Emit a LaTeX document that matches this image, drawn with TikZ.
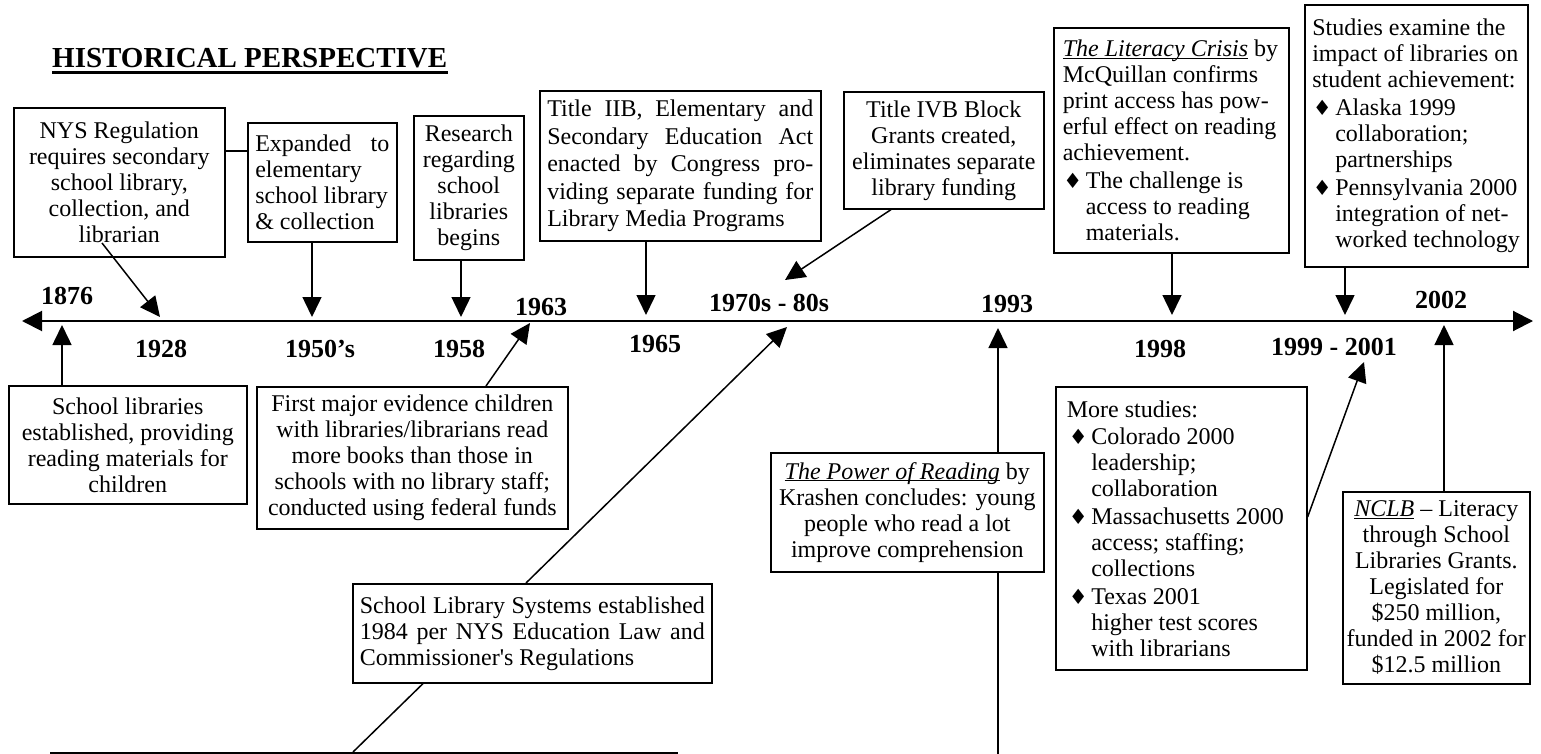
\documentclass[tikz,border=0pt]{standalone}
\usepackage{fontspec}
\setmainfont{Liberation Serif}
\newfontfamily\dejavu{DejaVu Sans}
\usetikzlibrary{arrows.meta,calc}
\newcommand{\dia}{{\dejavu\fontsize{21}{21}\selectfont\char"2666}}
\newcommand{\bul}{\hspace*{0.5pt}\makebox[22.5pt][l]{\dia}}
\newcommand{\ind}{\hspace*{23pt}}
\newcommand{\ulit}[1]{\underline{\smash{\textit{#1}}}}
\newcommand{\bodyfont}{\fontsize{24}{26}\selectfont}
\newcommand{\yearfont}{\fontsize{26}{28}\selectfont\bfseries}
\tikzset{
  box/.style={draw, line width=1.6pt, fill=white, anchor=north west, inner sep=0pt, font=\bodyfont},
  yr/.style={anchor=base west, inner sep=0pt, font=\yearfont},
  arr/.style={line width=1.5pt, -{Triangle[length=20pt,width=19pt]}},
  conn/.style={line width=1.5pt},
  axis/.style={line width=2pt, {Triangle[length=20pt,width=20pt]}-{Triangle[length=20pt,width=20pt]}}
}
\begin{document}
\begin{tikzpicture}[x=1pt,y=-1pt]
\useasboundingbox (0,0) rectangle (1541,754);
\clip (0,0) rectangle (1541,754);

% title
\node[anchor=base west, inner sep=0pt, font=\fontsize{29}{32}\selectfont\bfseries] (title) at (52,68) {HISTORICAL PERSPECTIVE};
\draw[line width=2.5pt] ($(title.base west)+(0,4.5)$) -- ($(title.base east)+(0,4.5)$);

% upper boxes
\node[box, minimum width=211pt, minimum height=149pt, align=center] (nys) at (13,107)
  {NYS Regulation\\ requires secondary\\ school library,\\ collection, and\\ librarian};
\node[box, minimum width=149pt, minimum height=119pt, align=left] (exp) at (247,122)
  {\makebox[134pt][s]{Expanded to}\\ elementary\\ school library\\ \& collection};
\node[box, minimum width=110pt, minimum height=144pt, align=center] (res) at (413,115)
  {Research\\ regarding\\ school\\ libraries\\ begins};
\node[box, minimum width=281pt, minimum height=150pt, align=left, font=\fontsize{24}{27.5}\selectfont] (t2b) at (539,90)
  {\makebox[266pt][s]{Title IIB, Elementary and}\\
   \makebox[266pt][s]{Secondary Education Act}\\
   \makebox[266pt][s]{enacted by Congress pro-}\\
   \makebox[266pt][s]{viding separate funding for}\\
   Library Media Programs};
\node[box, minimum width=200pt, minimum height=117pt, align=center] (t4b) at (843,91)
  {Title IVB Block\\ Grants created,\\ eliminates separate\\ library funding};
\node[box, minimum width=235pt, minimum height=225pt, align=left] (lit) at (1053,27)
  {\makebox[217pt][l]{\ulit{The Literacy Crisis} by}\\
   McQuillan confirms\\
   print access has pow-\\
   erful effect on reading\\
   achievement.\\[2pt]
   \bul The challenge is\\
   \ind access to reading\\
   \ind materials.};
\node[box, minimum width=223pt, minimum height=262pt, align=left] (stu) at (1304,4)
  {\makebox[208pt][l]{Studies examine the}\\
   impact of libraries on\\
   student achievement:\\[2pt]
   \bul Alaska 1999\\
   \ind collaboration;\\
   \ind partnerships\\[2pt]
   \bul Pennsylvania 2000\\
   \ind integration of net-\\
   \ind worked technology};

% lower boxes
\node[box, minimum width=238pt, minimum height=118pt, align=center] (sch) at (8,385)
  {School libraries\\ established, providing\\ reading materials for\\ children};
\node[box, minimum width=311pt, minimum height=142pt, align=center] (first) at (256,386)
  {First major evidence children\\ with libraries/librarians read\\ more books than those in\\ schools with no library staff;\\ conducted using federal funds};
\node[box, minimum width=359pt, minimum height=99pt, align=left] (sys) at (352,583)
  {\makebox[345pt][s]{School Library Systems established}\\
   \makebox[345pt][s]{1984 per NYS Education Law and}\\
   Commissioner\textquotesingle s Regulations};
\node[box, minimum width=273pt, minimum height=119pt, align=center] (power) at (770,452)
  {\ulit{The Power of Reading} by\\ Krashen concludes: young\\ people who read a lot\\ improve comprehension};
\node[box, minimum width=251pt, minimum height=283pt, align=left] (more) at (1055,386)
  {\makebox[229pt][l]{More studies:}\\[1pt]
   \hspace*{1.5pt}\bul Colorado 2000\\
   \hspace*{1.5pt}\ind leadership;\\
   \hspace*{1.5pt}\ind collaboration\\[2pt]
   \hspace*{1.5pt}\bul Massachusetts 2000\\
   \hspace*{1.5pt}\ind access; staffing;\\
   \hspace*{1.5pt}\ind collections\\[2pt]
   \hspace*{1.5pt}\bul Texas 2001\\
   \hspace*{1.5pt}\ind higher test scores\\
   \hspace*{1.5pt}\ind with librarians};
\node[box, minimum width=187pt, minimum height=192pt, align=center] (nclb) at (1342,491)
  {\ulit{NCLB} – Literacy\\ through School\\ Libraries Grants.\\ Legislated for\\ \$250 million,\\ funded in 2002 for\\ \$12.5 million};
\node[box, minimum width=626pt, minimum height=40pt] (bottom) at (50,752) {};

% year labels
\node[yr] (y1876) at (41,304) {1876};
\node[yr] (y1928) at (135,357) {1928};
\node[yr] (y1950) at (285,357) {1950’s};
\node[yr] (y1958) at (433,357) {1958};
\node[yr] (y1963) at (515,315) {1963};
\node[yr] (y1965) at (629,352) {1965};
\node[yr] (y1970) at (709,311) {1970s - 80s};
\node[yr] (y1993) at (981,312) {1993};
\node[yr] (y1998) at (1134,357) {1998};
\node[yr] (y1999) at (1271,355) {1999 - 2001};
\node[yr] (y2002) at (1415,308) {2002};

% axis
\coordinate (axL) at (22,321);
\coordinate (axR) at (1533,321);
\draw[axis] (axL) -- (axR);

% arrow tips on the axis
\coordinate (t1876) at (62,325);
\coordinate (t1928) at (160,317);
\coordinate (t1950) at (312,317);
\coordinate (t1958) at (461,317);
\coordinate (t1963) at (530,323);
\coordinate (t1965) at (646,315);
\coordinate (t70a) at (785,280);
\coordinate (t70b) at (787,327);
\coordinate (t1993) at (998,328);
\coordinate (t1998) at (1172,315);
\coordinate (t99a) at (1345,315);
\coordinate (t99b) at (1364,362);
\coordinate (t2002) at (1444,325);
\coordinate (pbot) at (998,760);

% connectors
\draw[arr] ($(sch.north west)+(54,0)$) -- (t1876);
\draw[arr] ($(nys.north west)+(89,136)$) -- (t1928);
\draw[conn] ($(nys.north east)+(0,44)$) -- ($(exp.north west)+(0,29)$);
\draw[arr] ($(exp.south west)+(65,0)$) -- (t1950);
\draw[arr] ($(res.south west)+(48,0)$) -- (t1958);
\draw[arr] ($(first.north west)+(230,0)$) -- (t1963);
\draw[arr] ($(t2b.south west)+(107,0)$) -- (t1965);
\draw[arr] ($(t4b.south west)+(48,0)$) -- (t70a);
\draw[arr] ($(sys.north west)+(174,0)$) -- (t70b);
\draw[conn] ($(sys.south west)+(71,0)$) -- ($(bottom.north west)+(303,0)$);
\draw[arr] ($(power.north west)+(228,0)$) -- (t1993);
\draw[conn] ($(power.south west)+(228,0)$) -- (pbot);
\draw[arr] ($(lit.south west)+(119,0)$) -- (t1998);
\draw[arr] ($(stu.south west)+(41,0)$) -- (t99a);
\draw[arr] ($(more.north east)+(0,131)$) -- (t99b);
\draw[arr] ($(nclb.north west)+(102,0)$) -- (t2002);
\end{tikzpicture}
\end{document}
